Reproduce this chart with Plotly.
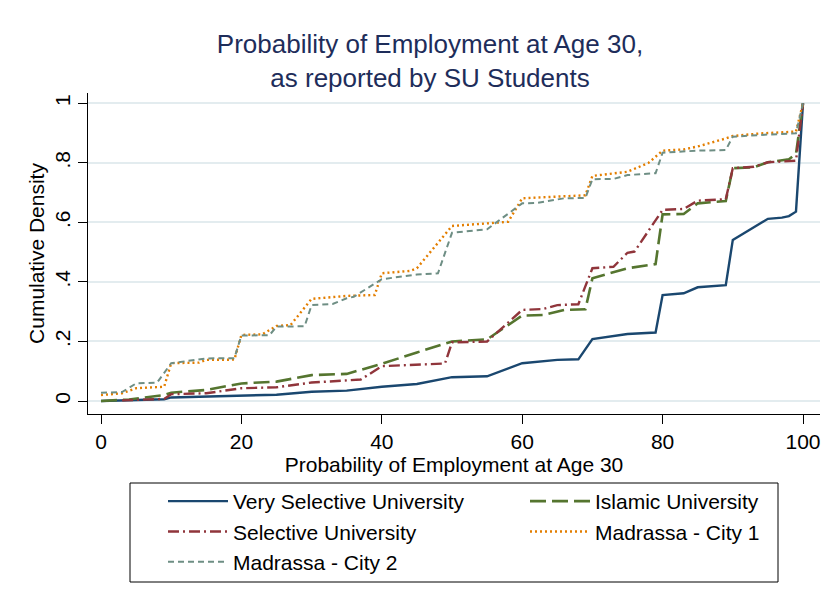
import plotly.graph_objects as go

# ---------------- data ----------------
vs_x = [0, 5, 9, 10, 15, 20, 25, 30, 35, 40, 45, 50, 55, 60, 65, 68, 70, 75, 79, 80, 83, 85, 89, 90, 95, 97, 98, 99, 100]
vs_y = [0.0, 0.002, 0.006, 0.012, 0.015, 0.018, 0.021, 0.031, 0.035, 0.048, 0.057, 0.08, 0.083, 0.127, 0.138, 0.14,
        0.208, 0.225, 0.23, 0.356, 0.362, 0.382, 0.389, 0.541, 0.612, 0.616, 0.621, 0.636, 1.0]

is_x = [0, 4, 9, 10, 15, 20, 25, 30, 35, 40, 45, 50, 55, 60, 63, 66, 69, 70, 75, 79, 80, 83, 85, 89, 90, 93, 95, 98, 99, 100]
is_y = [0.0, 0.005, 0.02, 0.028, 0.037, 0.059, 0.065, 0.087, 0.091, 0.125, 0.163, 0.2, 0.207, 0.287, 0.289, 0.306,
        0.308, 0.412, 0.446, 0.46, 0.627, 0.628, 0.664, 0.672, 0.782, 0.785, 0.802, 0.812, 0.83, 1.0]

se_x = [3, 9, 10, 15, 20, 25, 30, 35, 37, 40, 45, 49, 50, 55, 60, 63, 65, 68, 70, 73, 75, 76, 80, 83, 85, 89, 90, 93, 95, 99, 100]
se_y = [0.002, 0.007, 0.023, 0.026, 0.043, 0.046, 0.062, 0.07, 0.072, 0.117, 0.121, 0.126, 0.197, 0.2, 0.306, 0.309,
        0.322, 0.325, 0.446, 0.451, 0.498, 0.502, 0.642, 0.645, 0.673, 0.678, 0.782, 0.787, 0.802, 0.807, 1.0]

m1_x = [0, 3, 5, 9, 10, 14, 15, 19, 20, 23, 25, 27, 30, 35, 39, 40, 44, 45, 50, 55, 58, 60, 63, 65, 69, 70, 75, 78, 80,
        83, 85, 89, 90, 94, 99, 100]
m1_y = [0.02, 0.026, 0.043, 0.048, 0.127, 0.129, 0.138, 0.139, 0.222, 0.224, 0.252, 0.255, 0.343, 0.353, 0.356, 0.429,
        0.437, 0.446, 0.588, 0.598, 0.602, 0.681, 0.684, 0.688, 0.691, 0.756, 0.77, 0.8, 0.841, 0.845, 0.855, 0.882,
        0.89, 0.899, 0.905, 1.0]

m2_x = [0, 3, 5, 8, 10, 15, 19, 20, 24, 25, 29, 30, 33, 35, 36, 40, 45, 48, 50, 55, 60, 62, 66, 69, 70, 73, 75, 79, 80,
        85, 89, 90, 95, 99, 100]
m2_y = [0.028, 0.03, 0.059, 0.062, 0.127, 0.143, 0.144, 0.22, 0.221, 0.25, 0.251, 0.322, 0.326, 0.345, 0.35, 0.409,
        0.425, 0.429, 0.565, 0.577, 0.664, 0.665, 0.681, 0.682, 0.745, 0.746, 0.759, 0.765, 0.834, 0.841, 0.843, 0.888,
        0.895, 0.899, 1.0]

series_names = ["Very Selective University", "Islamic University", "Selective University",
                "Madrassa - City 1", "Madrassa - City 2"]

x_tick_vals = [0, 20, 40, 60, 80, 100]
x_tick_text = ["0", "20", "40", "60", "80", "100"]
y_tick_vals = [0, 0.2, 0.4, 0.6, 0.8, 1.0]
y_tick_text = ["0", ".2", ".4", ".6", ".8", "1"]

# ---------------- styling ----------------
FONT = "Liberation Sans, Arial, sans-serif"
colors = ["#1A476F", "#55752F", "#90353B", "#E37E00", "#6E8E84"]
dashes = ["solid", "16px,6px", "11px,4px,2px,4px", "2px,3px", "6px,4px"]
widths = [2.4, 2.6, 2.4, 2.4, 2.0]
xs = [vs_x, is_x, se_x, m1_x, m2_x]
ys = [vs_y, is_y, se_y, m1_y, m2_y]

fig = go.Figure()
for name, x, y, c, d, w in zip(series_names, xs, ys, colors, dashes, widths):
    fig.add_trace(go.Scatter(x=x, y=y, mode="lines", name=name,
                             line=dict(color=c, dash=d, width=w)))

OFF = 8  # page body offset of the rendered figure
W, H = 840, 611
pw, ph = 732, 321               # plot frame 88..820 x 93..414 (screen px)
L, T = 88 - OFF, 93 - OFF
R, B = W - L - pw, H - T - ph

def px_x(p):
    return (p - OFF - L) / pw

def px_y(p):
    return (T + ph - (p - OFF)) / ph

fig.update_layout(
    width=W, height=H,
    margin=dict(l=L, r=R, t=T, b=B, autoexpand=False),
    paper_bgcolor="white", plot_bgcolor="white",
    font=dict(family=FONT, color="black", size=21),
    title=dict(text="Probability of Employment at Age 30,<br>as reported by SU Students",
               x=422 / W, xanchor="center", xref="container",
               y=1 - 45 / H, yanchor="middle", yref="container",
               font=dict(family=FONT, size=26, color="#1E2D5A")),
    showlegend=True,
    legend=dict(orientation="h", xref="container", yref="container",
                x=155 / W, xanchor="left", y=1 - 473 / H, yanchor="top",
                itemwidth=60,
                entrywidth=287, entrywidthmode="pixels",
                font=dict(family=FONT, size=21, color="black"),
                bgcolor="rgba(0,0,0,0)", borderwidth=0, tracegroupgap=0),
    shapes=[dict(type="rect", xref="paper", yref="paper",
                 x0=px_x(130), x1=px_x(778), y0=px_y(582), y1=px_y(483),
                 line=dict(color="black", width=1), fillcolor="rgba(0,0,0,0)", layer="below")],
)

# data-to-screen calibration of the reference: x 0 -> 101 px, 100 -> 803 px; y 0 -> 401 px, 1 -> 103.3 px
fig.update_xaxes(range=[(88 - 101) / 7.02, (88 + pw - 101) / 7.02], automargin=False,
                 tickvals=x_tick_vals, ticktext=x_tick_text,
                 showgrid=False, zeroline=False,
                 showline=True, linecolor="black", linewidth=1,
                 ticks="outside", ticklen=9, tickcolor="black", tickwidth=1,
                 tickfont=dict(family=FONT, size=21, color="black"),
                 title=dict(text="Probability of Employment at Age 30",
                            font=dict(family=FONT, size=21, color="black"), standoff=0))
fig.update_yaxes(range=[(401 - 414) / 297.7, (401 - 93) / 297.7], automargin=False,
                 tickvals=y_tick_vals, ticktext=y_tick_text, tickangle=-90,
                 showgrid=True, gridcolor="#E3ECEF", gridwidth=2, zeroline=False,
                 showline=True, linecolor="black", linewidth=1,
                 ticks="outside", ticklen=9, tickcolor="black", tickwidth=1,
                 tickfont=dict(family=FONT, size=21, color="black"),
                 title=dict(text="Cumulative Density",
                            font=dict(family=FONT, size=21, color="black"), standoff=0))

fig.write_html("out.html")
